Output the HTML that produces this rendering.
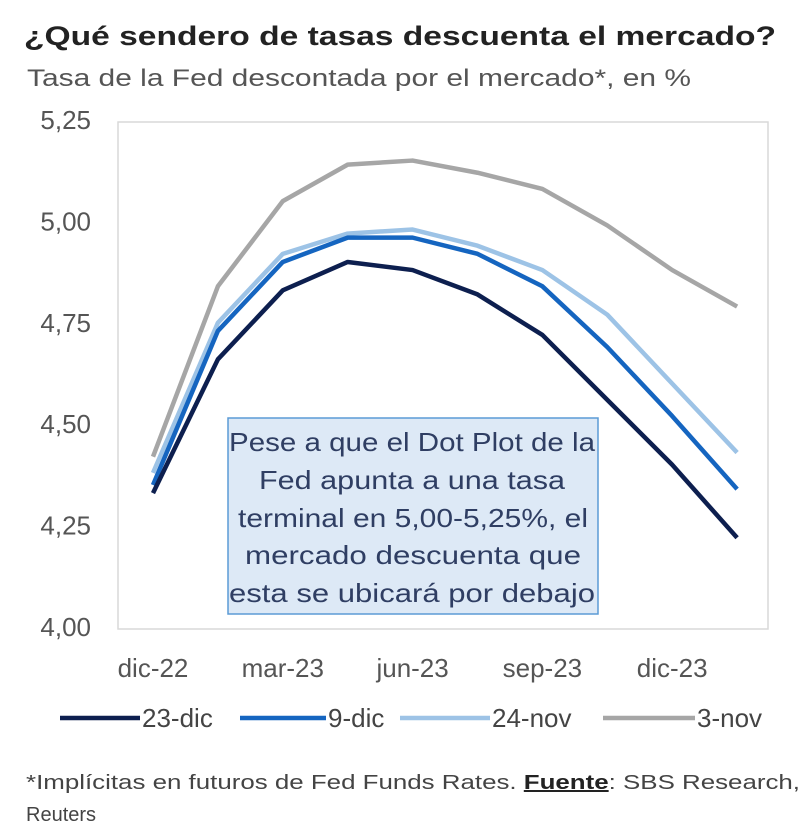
<!DOCTYPE html>
<html><head><meta charset="utf-8"><style>
body{margin:0;background:#fff;}
svg{display:block;font-family:"Liberation Sans",sans-serif;}
</style></head><body>
<svg width="800" height="840">
<text x="24" y="45" font-size="27" font-weight="bold" fill="#222" textLength="752" lengthAdjust="spacingAndGlyphs">¿Qué sendero de tasas descuenta el mercado?</text>
<text x="27" y="86" font-size="24" fill="#555" textLength="664" lengthAdjust="spacingAndGlyphs">Tasa de la Fed descontada por el mercado*, en %</text>
<rect x="118" y="122" width="650" height="507" fill="none" stroke="#d9d9d9" stroke-width="1.5"/>
<g id="yaxis"></g><g id="xaxis"></g><g id="series"></g>
<g>
<rect x="228" y="418" width="370" height="196" fill="#dde9f6" stroke="#5b9bd5" stroke-width="1.5"/>
<text font-size="26" fill="#2f3e63">
<tspan x="229" y="451" textLength="366" lengthAdjust="spacingAndGlyphs">Pese a que el Dot Plot de la</tspan>
<tspan x="259" y="489" textLength="306" lengthAdjust="spacingAndGlyphs">Fed apunta a una tasa</tspan>
<tspan x="238" y="527" textLength="350" lengthAdjust="spacingAndGlyphs">terminal en 5,00-5,25%, el</tspan>
<tspan x="245" y="564" textLength="336" lengthAdjust="spacingAndGlyphs">mercado descuenta que</tspan>
<tspan x="229" y="602" textLength="366" lengthAdjust="spacingAndGlyphs">esta se ubicará por debajo</tspan>
</text></g>
<g id="legend"></g>
<text x="26" y="789" font-size="20" fill="#444" textLength="774" lengthAdjust="spacingAndGlyphs">*Implícitas en futuros de Fed Funds Rates. <tspan font-weight="bold" text-decoration="underline" fill="#222">Fuente</tspan>: SBS Research,</text>
<text x="26" y="821" font-size="20" fill="#444">Reuters</text>
</svg>
<script>
const yTicks=[4.00,4.25,4.50,4.75,5.00,5.25];
const yTickLabels=["4,00","4,25","4,50","4,75","5,00","5,25"];
const xLabels=["dic-22","mar-23","jun-23","sep-23","dic-23"];
const xLabelIdx=[0,2,4,6,8];
const seriesNames=["23-dic","9-dic","24-nov","3-nov"];
const s23dic=[4.33,4.66,4.83,4.90,4.88,4.82,4.72,4.56,4.40,4.22];
const s9dic=[4.35,4.73,4.90,4.96,4.96,4.92,4.84,4.69,4.52,4.34];
const s24nov=[4.38,4.75,4.92,4.97,4.98,4.94,4.88,4.77,4.60,4.43];
const s3nov=[4.42,4.84,5.05,5.14,5.15,5.12,5.08,4.99,4.88,4.79];
const NS="http://www.w3.org/2000/svg";
const x=i=>153+i*64.9;
const y=v=>627-(v-4)*405.6;
function mk(t,a,p){const e=document.createElementNS(NS,t);for(const k in a)e.setAttribute(k,a[k]);p.appendChild(e);return e;}
const ya=document.getElementById('yaxis');
yTicks.forEach((v,i)=>{const t=mk('text',{x:91,y:y(v)+9,'font-size':26,fill:'#555','text-anchor':'end'},ya);t.textContent=yTickLabels[i];

});
const xa=document.getElementById('xaxis');
xLabels.forEach((l,i)=>{const t=mk('text',{x:x(xLabelIdx[i]),y:677,'font-size':26,fill:'#555','text-anchor':'middle'},xa);t.textContent=l;

});
const colors=["#0d1f4f","#1565c0","#9dc3e6","#a6a6a6"];
const data=[s23dic,s9dic,s24nov,s3nov];
const sg=document.getElementById('series');
[3,2,1,0].forEach(k=>{const p=mk('polyline',{points:data[k].map((v,i)=>x(i)+','+y(v)).join(' '),fill:'none',stroke:colors[k],'stroke-width':4.5,'stroke-linejoin':'round'},sg);

});
const lg=document.getElementById('legend');
const lx=[[60,142],[240,328],[400,492],[603,697]];
seriesNames.forEach((n,k)=>{const g=mk('g',{},lg);


mk('line',{x1:lx[k][0],x2:lx[k][1]-2,y1:718,y2:718,stroke:colors[k],'stroke-width':4.5},g);
const t=mk('text',{x:lx[k][1],y:727,'font-size':26,fill:'#444'},g);t.textContent=n;});
</script>
</body></html>
